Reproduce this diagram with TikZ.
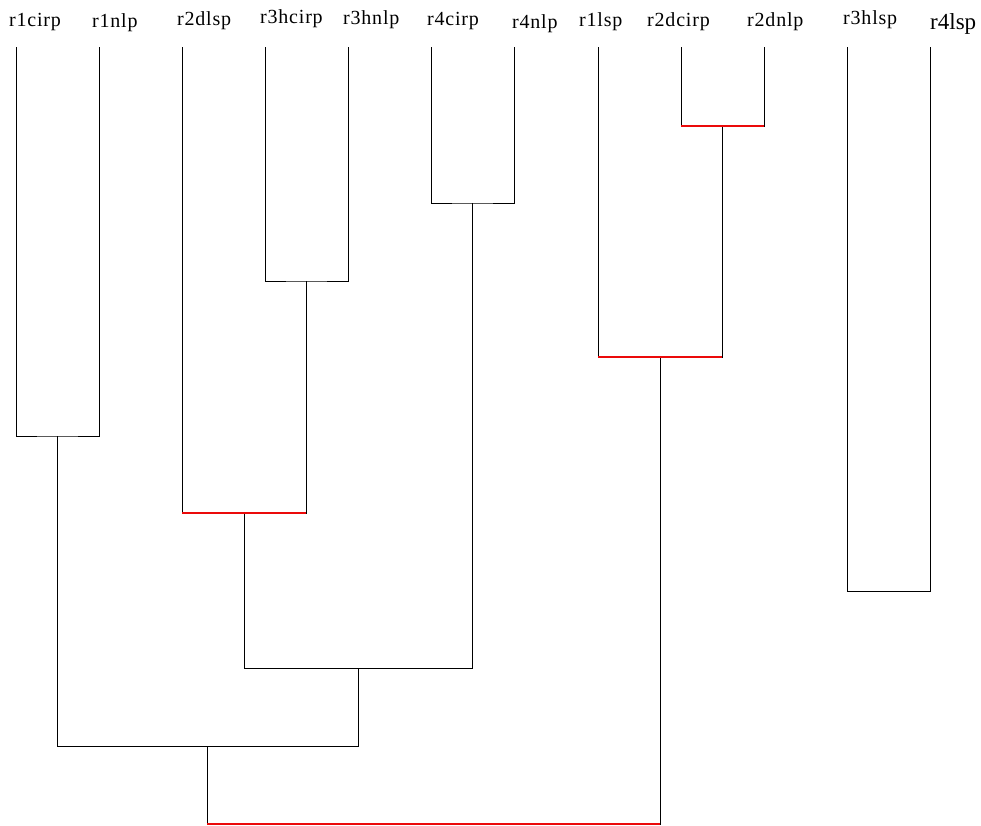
\documentclass[tikz,border=0pt]{standalone}
\usepackage{fontspec}
\usepackage{tikz}
\usetikzlibrary{positioning}
\newfontfamily\leaffont[LetterSpace=4]{Liberation Serif}
\definecolor{cutred}{RGB}{235,10,10}
\tikzset{
  leaflabel/.style={anchor=base west,inner sep=0pt,font=\leaffont\fontsize{20}{20}\selectfont},
  biglabel/.style={leaflabel,font=\fontspec{Liberation Serif}\fontsize{23}{23}\selectfont},
  link/.style={draw=black,line width=0.8pt},
  cutlink/.style={draw=cutred,line width=2.6pt}
}
\begin{document}
\begin{tikzpicture}[x=1pt,y=-1pt]
\useasboundingbox (0,0) rectangle (981,825);
% leaves
\coordinate (r1cirp) at (16,47);
\coordinate (r1nlp) at (99,47);
\coordinate (r2dlsp) at (182,47);
\coordinate (r3hcirp) at (265,47);
\coordinate (r3hnlp) at (348,47);
\coordinate (r4cirp) at (431,47);
\coordinate (r4nlp) at (514,47);
\coordinate (r1lsp) at (598,47);
\coordinate (r2dcirp) at (681,47);
\coordinate (r2dnlp) at (764,47);
\coordinate (r3hlsp) at (847,47);
\coordinate (r4lsp) at (930,47);
% labels
\node[leaflabel] (l1) at (9,26) {r1cirp};
\node[leaflabel] (l2) at (92,27) {r1nlp};
\node[leaflabel] (l3) at (177,25) {r2dlsp};
\node[leaflabel] (l4) at (260,23) {r3hcirp};
\node[leaflabel] (l5) at (343,24) {r3hnlp};
\node[leaflabel] (l6) at (427,25) {r4cirp};
\node[leaflabel] (l7) at (512,28) {r4nlp};
\node[leaflabel] (l8) at (579,26) {r1lsp};
\node[leaflabel] (l9) at (647,26) {r2dcirp};
\node[leaflabel] (l10) at (747,26) {r2dnlp};
\node[leaflabel] (l11) at (843,24) {r3hlsp};
\node[biglabel] (l12) at (930,29) {r4lsp};
% merges
\coordinate (m1) at (57,436);
\coordinate (m2) at (306,281);
\coordinate (m3) at (472,203);
\coordinate (m4) at (722,126);
\coordinate (m5) at (660,357);
\coordinate (m6) at (244,513);
\coordinate (m7) at (358,668);
\coordinate (m8) at (207,746);
\coordinate (m9) at (433,824);
\coordinate (m10) at (888,591);
% black links
\draw[link] (r1cirp) |- (m1) -| (r1nlp);
\draw[link] (r3hcirp) |- (m2) -| (r3hnlp);
\draw[link] (r4cirp) |- (m3) -| (r4nlp);
\draw[link] (r2dcirp) |- (m4) -| (r2dnlp);
\draw[link] (r1lsp) |- (m5) -| (m4);
\draw[link] (r2dlsp) |- (m6) -| (m2);
\draw[link] (m6) |- (m7) -| (m3);
\draw[link] (m1) |- (m8) -| (m7);
\draw[link] (m8) |- (m9) -| (m5);
\draw[link] (r3hlsp) |- (m10) -| (r4lsp);
% red cuts
\draw[cutlink] (r2dcirp |- m4) -- (r2dnlp |- m4);
\draw[cutlink] (r1lsp |- m5) -- (m4 |- m5);
\draw[cutlink] (r2dlsp |- m6) -- (m2 |- m6);
\draw[cutlink] (m8 |- m9) -- (m5 |- m9);
\end{tikzpicture}
\end{document}
